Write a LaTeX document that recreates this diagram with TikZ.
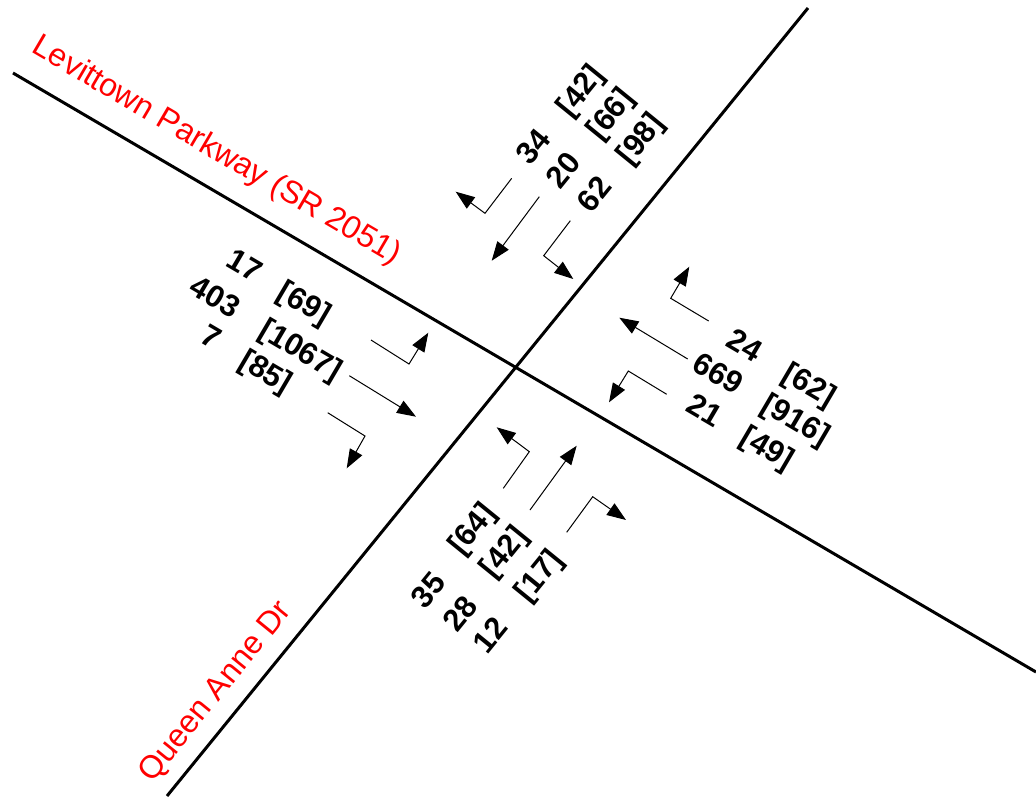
\documentclass[tikz,border=0pt]{standalone}
\usepackage{fontspec}
\setmainfont{Liberation Sans}
\usetikzlibrary{arrows.meta}
\begin{document}
\begin{tikzpicture}[x=1pt,y=-1pt,
  road/.style={line width=3pt,black},
  mv/.style={line width=1pt,-{Triangle[length=19pt,width=14pt]}},
  vol/.style={font=\bfseries\fontsize{31}{31}\selectfont, inner sep=0pt},
  rname/.style={text=red,font=\fontsize{32}{32}\selectfont, inner sep=0pt},
]
\useasboundingbox[fill=white] (0,0) rectangle (1036,796);
% roads
\coordinate (LW) at (13,73);
\coordinate (LE) at (1036,672);
\coordinate (QN) at (808,8);
\coordinate (QS) at (167,796);
\draw[road] (LW) -- (LE);
\draw[road] (QN) -- (QS);
% road names
\node[rname, rotate=-30.4] (levname) at (216.5,151.5) {Levittown Parkway (SR 2051)};
\node[rname, rotate=50.9] (qaname) at (216.3,692) {Queen Anne Dr};
% north approach arrows
\coordinate (n1a) at (511.7,178.3); \coordinate (n1b) at (485,213.3); \coordinate (n1c) at (455.7,191.7);
\coordinate (n2a) at (539.3,196.7); \coordinate (n2c) at (491.7,260.7);
\coordinate (n3a) at (570.3,220.7); \coordinate (n3b) at (543.7,255.7); \coordinate (n3c) at (573.3,279);
\draw[mv] (n1a) -- (n1b) -- (n1c);
\draw[mv] (n2a) -- (n2c);
\draw[mv] (n3a) -- (n3b) -- (n3c);
% west approach arrows
\coordinate (w1a) at (371,340); \coordinate (w1b) at (409,364); \coordinate (w1c) at (428.3,332.7);
\coordinate (w2a) at (349.3,375.7); \coordinate (w2c) at (416,416.7);
\coordinate (w3a) at (327.7,412.7); \coordinate (w3b) at (365,436); \coordinate (w3c) at (346.7,468.3);
\draw[mv] (w1a) -- (w1b) -- (w1c);
\draw[mv] (w2a) -- (w2c);
\draw[mv] (w3a) -- (w3b) -- (w3c);
% east approach arrows
\coordinate (e1a) at (708.7,321); \coordinate (e1b) at (670.7,298.3); \coordinate (e1c) at (689.3,266.7);
\coordinate (e2a) at (687.7,359); \coordinate (e2c) at (619.3,317.7);
\coordinate (e3a) at (666.7,394.3); \coordinate (e3b) at (628.3,371); \coordinate (e3c) at (609,402.3);
\draw[mv] (e1a) -- (e1b) -- (e1c);
\draw[mv] (e2a) -- (e2c);
\draw[mv] (e3a) -- (e3b) -- (e3c);
% south approach arrows
\coordinate (s1a) at (503.3,488.3); \coordinate (s1b) at (529.3,451.7); \coordinate (s1c) at (496.7,427.3);
\coordinate (s2a) at (530,510); \coordinate (s2c) at (576.7,445.7);
\coordinate (s3a) at (566.7,532.3); \coordinate (s3b) at (592.7,496.7); \coordinate (s3c) at (626,520);
\draw[mv] (s1a) -- (s1b) -- (s1c);
\draw[mv] (s2a) -- (s2c);
\draw[mv] (s3a) -- (s3b) -- (s3c);
% north volumes
\node[vol, rotate=50.9] (n34) at (533.3,146.7) {34};
\node[vol, rotate=50.9] (n20) at (563.3,170) {20};
\node[vol, rotate=50.9] (n62) at (594,194) {62};
\node[vol, rotate=50.9] (n42) at (581.7,91.7) {[42]};
\node[vol, rotate=50.9] (n66) at (611.7,115) {[66]};
\node[vol, rotate=50.9] (n98) at (641.7,140) {[98]};
% west volumes
\node[vol, rotate=-30.4] (w17) at (245,265) {17};
\node[vol, rotate=-30.4] (w403) at (215,296.7) {403};
\node[vol, rotate=-30.4] (w7) at (211.7,336.7) {7};
\node[vol, rotate=-30.4] (w69) at (303.3,305) {[69]};
\node[vol, rotate=-30.4] (w1067) at (300,351.7) {[1067]};
\node[vol, rotate=-30.4] (w85) at (265,373.3) {[85]};
% east volumes
\node[vol, rotate=-30.4] (e24) at (745,345) {24};
\node[vol, rotate=-30.4] (e669) at (718.3,373.3) {669};
\node[vol, rotate=-30.4] (e21) at (705,410) {21};
\node[vol, rotate=-30.4] (e62) at (808.3,386.7) {[62]};
\node[vol, rotate=-30.4] (e916) at (795,421.7) {[916]};
\node[vol, rotate=-30.4] (e49) at (766.7,450) {[49]};
% south volumes
\node[vol, rotate=50.9] (s64) at (473.3,530) {[64]};
\node[vol, rotate=50.9] (s42) at (505,553.3) {[42]};
\node[vol, rotate=50.9] (s17) at (540,576.7) {[17]};
\node[vol, rotate=50.9] (s35) at (428.3,590) {35};
\node[vol, rotate=50.9] (s28) at (460,613.3) {28};
\node[vol, rotate=50.9] (s12) at (490,635) {12};
\end{tikzpicture}
\end{document}
